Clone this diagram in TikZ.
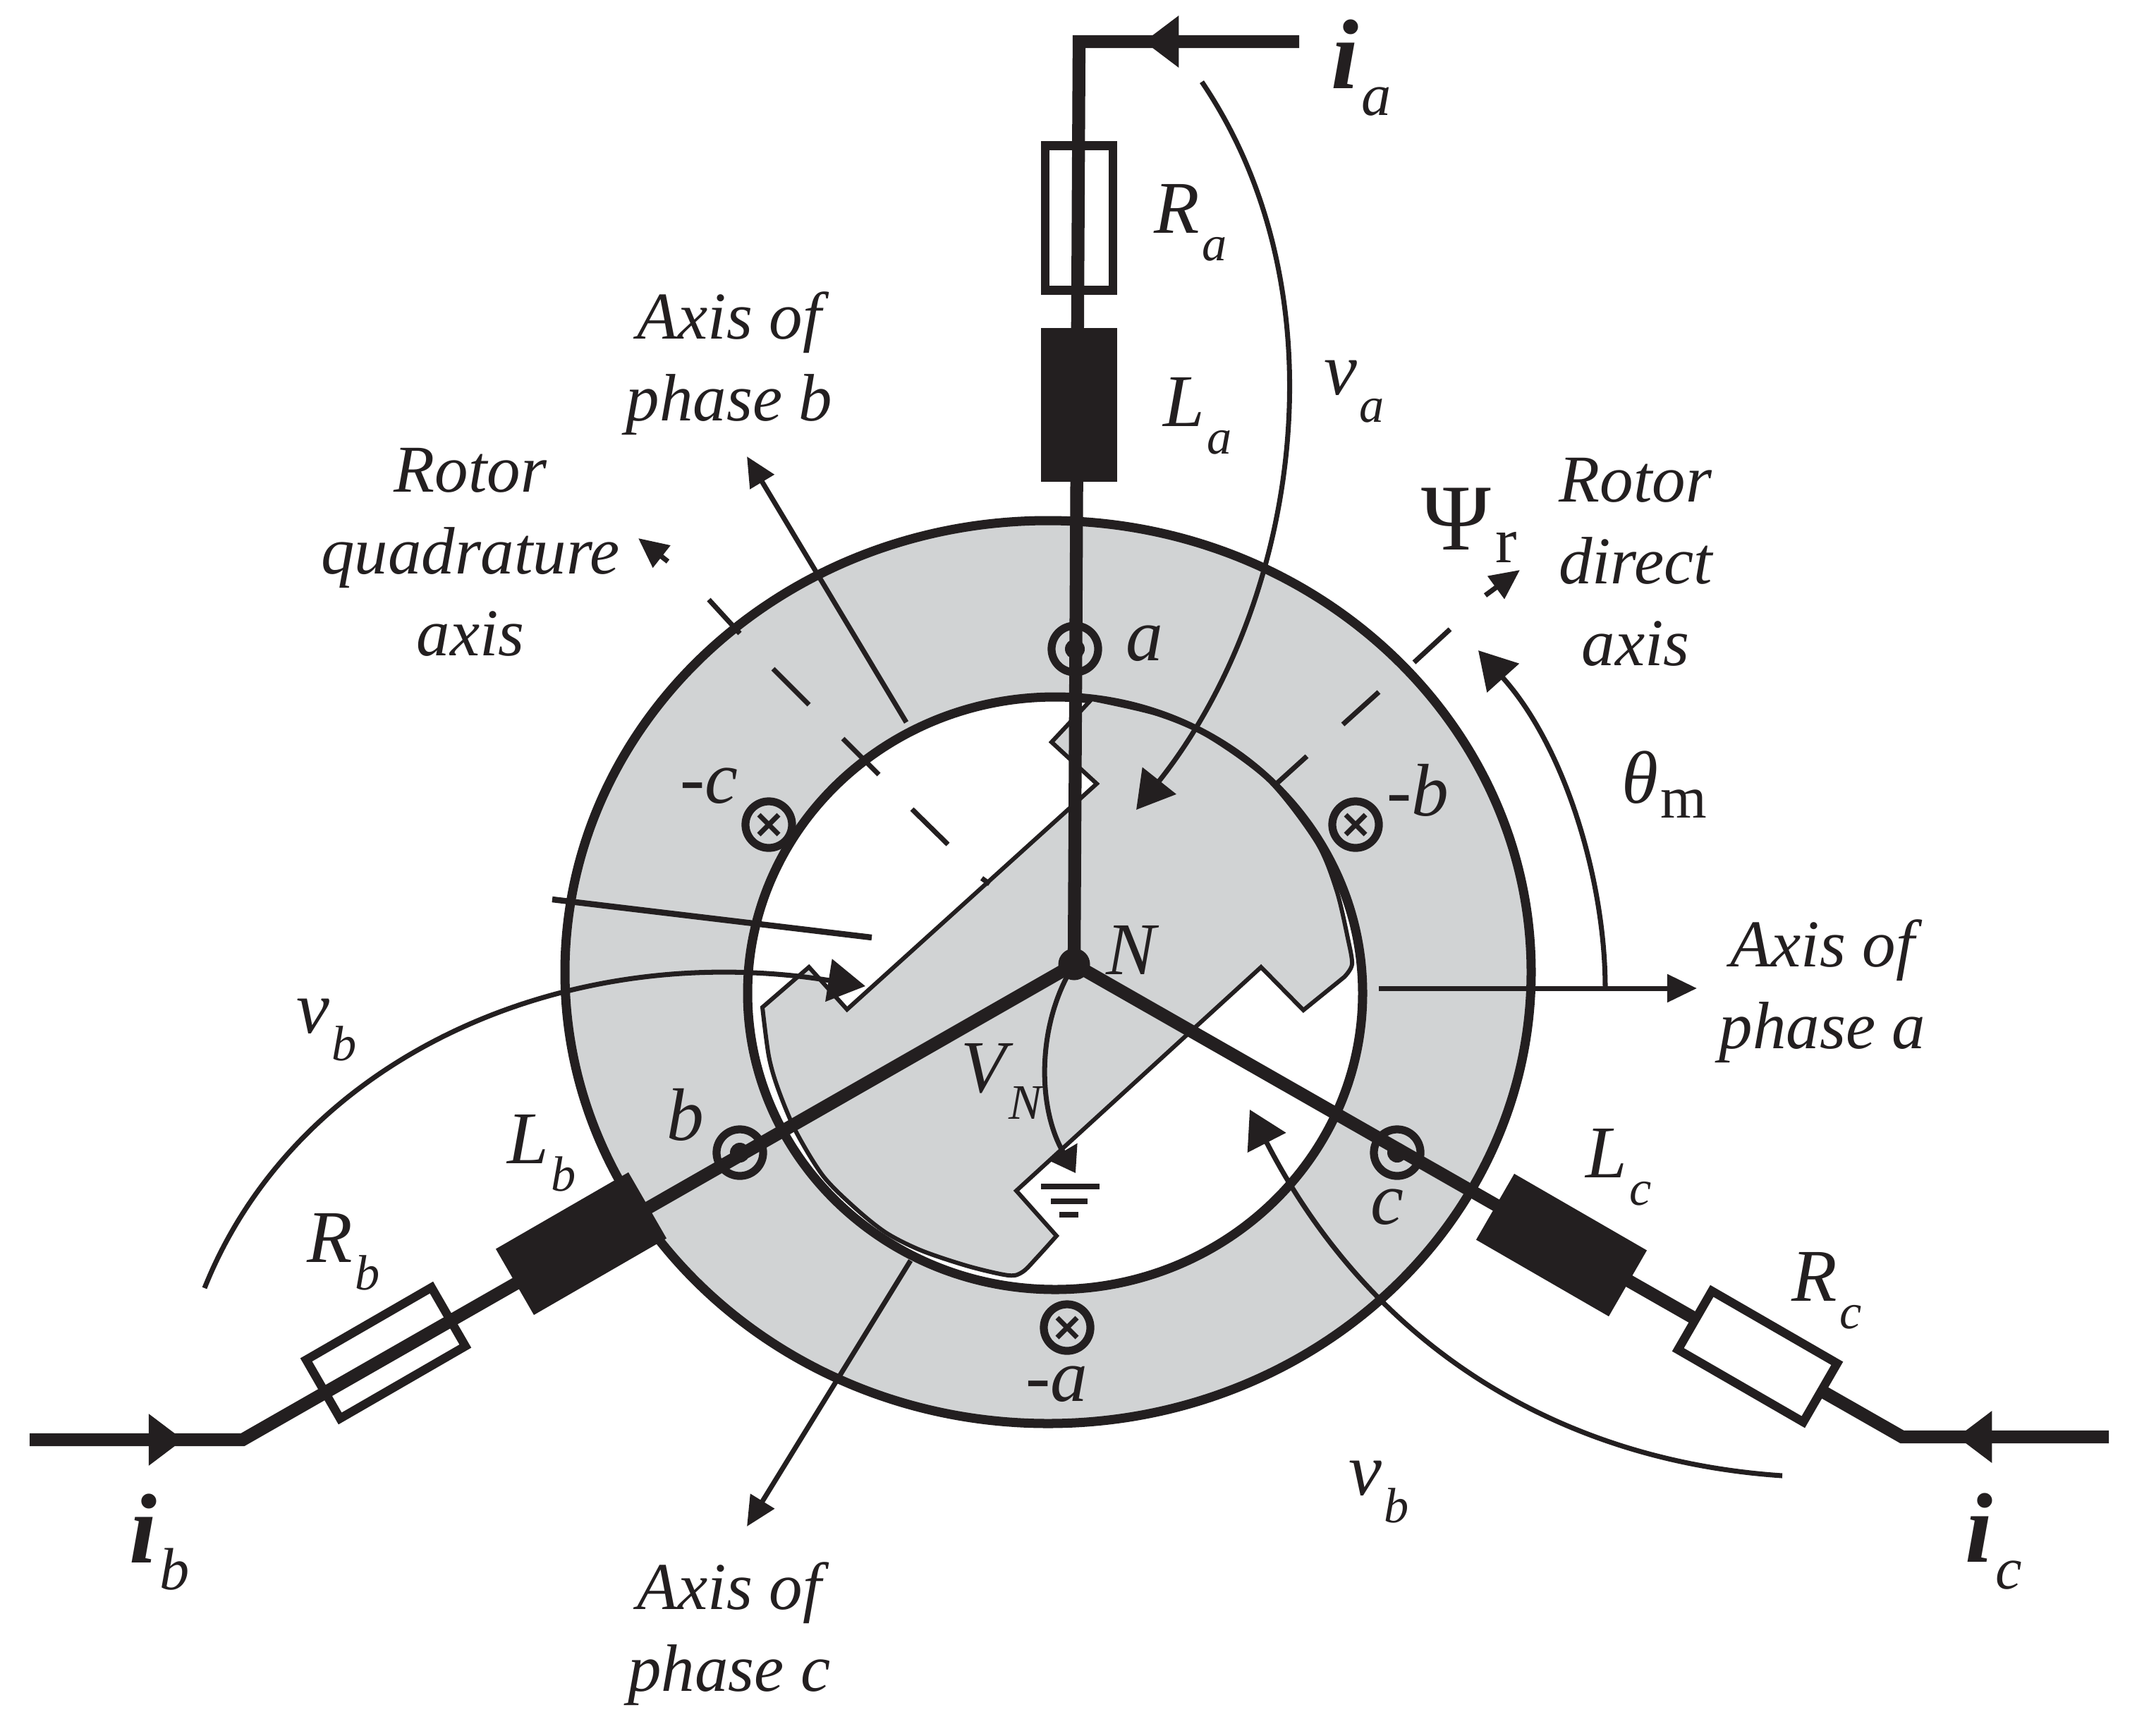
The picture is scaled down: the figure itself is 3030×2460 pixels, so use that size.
\documentclass[tikz,border=0pt]{standalone}
\usepackage{fontspec}
\setmainfont{Liberation Serif}
\usetikzlibrary{arrows.meta}
\definecolor{ringgray}{HTML}{D1D3D4}
\definecolor{inkblack}{HTML}{231F20}
\newcommand{\subbed}[3][20]{#2\kern.03em\raisebox{-11pt}{\fontsize{#1}{#1}\selectfont\mdseries #3}}
\tikzset{
    lead/.style={line width=5.2pt, inkblack},
    thinline/.style={line width=2pt, inkblack},
    vec/.style={line width=2pt, inkblack, -{Triangle[length=15pt,width=17pt]}},
    axisvec/.style={line width=2pt, inkblack, -{Triangle[length=12pt,width=11pt]}},
    gndvec/.style={line width=2pt, inkblack, -{Triangle[length=10pt,width=13pt]}},
    leadvec/.style={lead, -{Triangle[length=14pt,width=20pt]}},
    coilbox/.style={draw=none, fill=inkblack, minimum width=2.17cm, minimum height=1.08cm, inner sep=0pt},
    resbox/.style={draw=inkblack, line width=3.5pt, minimum width=2.05cm, minimum height=0.96cm, inner sep=0pt},
    txt/.style={font=\fontsize{27}{33}\selectfont\itshape, inkblack, inner sep=0pt, align=center},
    sym/.style={font=\fontsize{30}{33}\selectfont\itshape, inkblack, inner sep=0pt},
    cur/.style={font=\fontsize{40}{44}\selectfont\bfseries\itshape, inkblack, inner sep=0pt},
    ringdot/.style={circle, draw=inkblack, line width=3.2pt, minimum size=0.66cm, inner sep=0pt},
    hubdot/.style={circle, fill=inkblack, minimum size=0.45cm, inner sep=0pt},
    wiredot/.style={circle, fill=inkblack, minimum size=0.28cm, inner sep=0pt},
}
\begin{document}
\begin{tikzpicture}[x=0.01cm, y=-0.01cm]
    \useasboundingbox (0,0) rectangle (3030,2460);

    % Stator and bore
    \draw[inkblack, line width=3.7pt, fill=ringgray] (1486,1378) ellipse [x radius=685, y radius=640];
    \draw[inkblack, line width=3.7pt, fill=white] (1496,1408) ellipse [x radius=436, y radius=420];

    % Rotor
    \draw[inkblack, line width=1.7pt, fill=ringgray, line join=miter]
        plot[smooth] coordinates {(1548,991) (1640,1012) (1714,1044) (1800,1107) (1867,1194) (1895,1262) (1911,1330) (1917,1367) (1906,1385)}
        -- (1848,1432) -- (1788,1371) -- (1441,1688) -- (1498,1752)
        -- plot[smooth] coordinates {(1498,1752) (1470,1783) (1450,1803) (1430,1808) (1373,1795) (1307,1773) (1257,1748) (1213,1713) (1167,1667) (1128,1603) (1103,1543) (1090,1497) (1081,1428)}
        -- (1147,1371) -- (1201,1431) -- (1555,1111) -- (1491,1052) -- cycle;

    % Points of the star
    \node[hubdot] (hub) at (1523,1367) {};
    \coordinate (cornera) at (1530,59);
    \coordinate (enda) at (1842,59);
    \coordinate (tipa) at (1622,59);
    \coordinate (cornerb) at (344,2041);
    \coordinate (endb) at (42,2041);
    \coordinate (tipb) at (260,2041);
    \coordinate (cornerc) at (2697,2037);
    \coordinate (endc) at (2990,2037);
    \coordinate (tipc) at (2775,2037);

    % Rotor axes
    \draw[thinline] (1811,1110) -- (1853,1072);
    \draw[thinline] (1904,1027) -- (1955,981);
    \draw[thinline] (2005,939) -- (2056,892);
    \coordinate (psifrom) at (2106,844);
    \coordinate (psito) at (2155,808);
    \draw[axisvec] (psifrom) -- (psito);
    \draw[thinline] (1392,1245) -- (1403,1253);
    \draw[thinline] (1293,1147) -- (1344,1197);
    \draw[thinline] (1195,1047) -- (1246,1098);
    \draw[thinline] (1096,948) -- (1147,999);
    \draw[thinline] (1005,850) -- (1049,898);
    \coordinate (quadfrom) at (947,796);
    \coordinate (quadto) at (905,763);
    \draw[axisvec] (quadfrom) -- (quadto);
    \draw[thinline, line width=2.4pt] (783,1275) -- (1236,1329);

    % Phase axes
    \coordinate (axafrom) at (1955,1401);
    \coordinate (axato) at (2406,1401);
    \draw[axisvec] (axafrom) -- (axato);
    \coordinate (axbfrom) at (1285,1024);
    \coordinate (axbto) at (1059,647);
    \draw[axisvec] (axbfrom) -- (axbto);
    \coordinate (axcfrom) at (1291,1787);
    \coordinate (axcto) at (1059,2164);
    \draw[axisvec] (axcfrom) -- (axcto);

    % Leads
    \draw[lead, line join=miter] (hub.center) -- (cornera) -- (enda);
    \draw[lead, line join=miter] (hub.center) -- (cornerb) -- (endb);
    \draw[lead, line join=miter] (hub.center) -- (cornerc) -- (endc);
    \draw[leadvec] (enda) -- (tipa);
    \draw[leadvec] (endb) -- (tipb);
    \draw[leadvec] (endc) -- (tipc);

    % Coils and resistors
    \node[resbox, rotate=90] (Ra) at (1530,309) {};
    \node[coilbox, rotate=90] (La) at (1530,574) {};
    \node[coilbox, rotate=30] (Lb) at (824,1763) {};
    \node[resbox, rotate=30] (Rb) at (547,1918) {};
    \node[coilbox, rotate=-30] (Lc) at (2214,1765) {};
    \node[resbox, rotate=-30, fill=white] (Rc) at (2492,1923) {};

    % Winding terminals
    \foreach \t/\p in {a/{1524,920}, b/{1049,1634}, c/{1981,1634}} {
        \node[ringdot] (term\t) at (\p) {};
        \node[wiredot] (wire\t) at (\p) {};
    }
    \foreach \t/\p in {ma/{1513,1882}, mb/{1922,1169}, mc/{1090,1169}} {
        \node[ringdot] (term\t) at (\p) {};
        \draw[thinline] (term\t.center) ++(-14,-14) -- ++(28,28);
        \draw[thinline] (term\t.center) ++(-14,14) -- ++(28,-28);
    }

    % Voltage arrows
    \coordinate (vafrom) at (1704,116);
    \coordinate (vato) at (1611,1148);
    \draw[vec] (vafrom) .. controls (1910,420) and (1840,860) .. (vato);
    \coordinate (vbfrom) at (290,1826);
    \coordinate (vbto) at (1227,1398);
    \draw[vec] (vbfrom) .. controls (420,1500) and (800,1330) .. (vbto);
    \coordinate (vcfrom) at (2527,2092);
    \coordinate (vcto) at (1772,1573);
    \draw[vec] (vcfrom) .. controls (2200,2070) and (1940,1900) .. (vcto);
    \coordinate (thfrom) at (2276,1401);
    \coordinate (thto) at (2096,922);
    \draw[vec] (thfrom) .. controls (2276,1250) and (2220,1060) .. (thto);
    \coordinate (vnto) at (1525,1663);
    \draw[gndvec] (hub.center) .. controls (1470,1450) and (1470,1570) .. (vnto);

    % Ground
    \draw[inkblack, line width=2.4pt] (1476,1682) -- (1559,1682);
    \draw[inkblack, line width=2.4pt] (1490,1703) -- (1542,1703);
    \draw[inkblack, line width=2.4pt] (1502,1722) -- (1529,1722);

    % Labels
    \node[cur] (lia) at (1930,96) {\subbed[24]{i}{a}};
    \node[sym] (lRa) at (1688,316) {\subbed{R}{a}};
    \node[sym] (lLa) at (1698,590) {\subbed{L}{a}};
    \node[sym] (lva) at (1920,555) {\subbed{v}{a}};
    \node[txt] (lrd) at (2319,797) {Rotor\\direct\\axis};
    \node[sym, font=\fontsize{38}{40}\selectfont\upshape] (lpsi) at (2083,745) {Ψ\kern.05em\raisebox{-5pt}{\fontsize{26}{26}\selectfont r}};
    \node[sym] (lth) at (2360,1112) {θ\kern.03em\raisebox{-6pt}{\fontsize{24}{24}\selectfont\upshape m}};
    \node[txt] (lpa) at (2584,1405) {Axis of\\phase a};
    \node[txt] (lpb) at (1034,515) {Axis of\\phase b};
    \node[txt] (lpc) at (1034,2316) {Axis of\\phase c};
    \node[txt] (lrq) at (667,783) {Rotor\\quadrature\\axis};
    \node[sym] (la) at (1623,912) {a};
    \node[sym] (lmb) at (2010,1120) {-b};
    \node[sym] (lmc) at (1005,1114) {-c};
    \node[sym] (lN) at (1604,1347) {N};
    \node[sym] (lb) at (972,1580) {b};
    \node[sym] (lc) at (1967,1711) {c};
    \node[sym] (lma) at (1498,1962) {-a};
    \node[sym] (lVN) at (1420,1533) {\subbed{V}{N}};
    \node[sym] (lLb) at (768,1635) {\subbed{L}{b}};
    \node[sym] (lRb) at (487,1775) {\subbed{R}{b}};
    \node[sym] (lvb) at (463,1460) {\subbed{v}{b}};
    \node[cur] (lib) at (226,2186) {\subbed[24]{i}{b}};
    \node[sym] (lLc) at (2295,1655) {\subbed{L}{c}};
    \node[sym] (lRc) at (2590,1830) {\subbed{R}{c}};
    \node[sym] (lvc) at (1955,2115) {\subbed{v}{b}};
    \node[cur] (lic) at (2827,2185) {\subbed[24]{i}{c}};
\end{tikzpicture}
\end{document}
